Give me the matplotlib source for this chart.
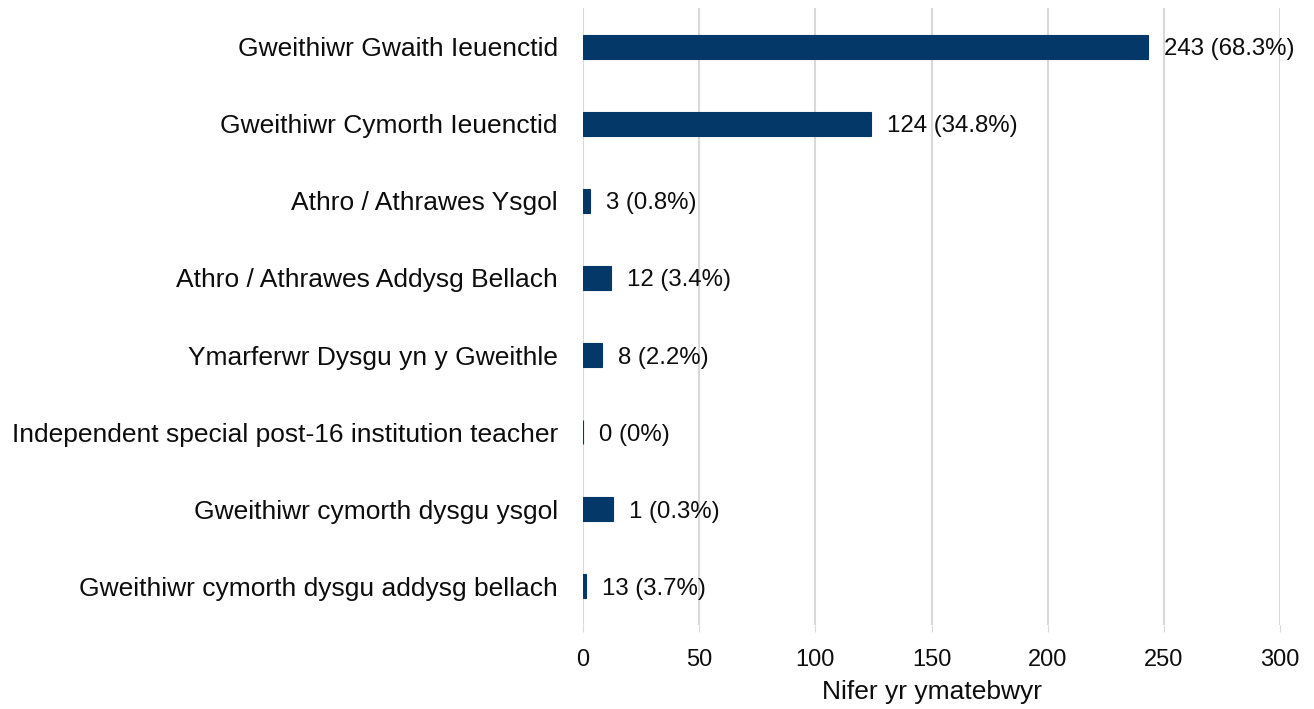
import matplotlib
matplotlib.use("Agg")
import matplotlib.pyplot as plt

categories = [
    "Gweithiwr Gwaith Ieuenctid",
    "Gweithiwr Cymorth Ieuenctid",
    "Athro / Athrawes Ysgol",
    "Athro / Athrawes Addysg Bellach",
    "Ymarferwr Dysgu yn y Gweithle",
    "Independent special post-16 institution teacher",
    "Gweithiwr cymorth dysgu ysgol",
    "Gweithiwr cymorth dysgu addysg bellach",
]
bar_values = [243, 124, 3, 12, 8, 0, 13, 1.5]
value_labels = ["243 (68.3%)", "124 (34.8%)", "3 (0.8%)", "12 (3.4%)",
                "8 (2.2%)", "0 (0%)", "1 (0.3%)", "13 (3.7%)"]
xticks = [0, 50, 100, 150, 200, 250, 300]
xlabel = "Nifer yr ymatebwyr"

plt.rcParams['font.family'] = ['Liberation Sans', 'DejaVu Sans']

fig = plt.figure(figsize=(13.14, 7.09), dpi=100)
ax = fig.add_axes([583/1314, 1 - 625/709, 697/1314, 617/709])

color = '#043868'
fs = 19
y = list(range(len(categories)))
ax.barh(y, bar_values, height=0.31, color=color, edgecolor=color, linewidth=0.8, zorder=3)
for yi, v, lab in zip(y, bar_values, value_labels):
    ax.annotate(lab, (v, yi), xytext=(16, 0), textcoords='offset pixels',
                va='center_baseline', ha='left', fontsize=17.3, color='#0d0d0d')

ax.set_ylim(len(categories) - 0.5, -0.5)
ax.set_xlim(0, 300)
ax.set_xticks(xticks)
ax.set_yticks(y)
ax.set_yticklabels(categories, fontsize=fs, color='#0d0d0d')
ax.tick_params(axis='y', length=0, pad=18)
ax.tick_params(axis='x', length=5, color='#d9d9d9', labelsize=17, labelcolor='#0d0d0d', pad=12)
ax.grid(axis='x', color='#d9d9d9', linewidth=1.5, zorder=0)
for s in ax.spines.values():
    s.set_visible(False)
ax.set_xlabel(xlabel, fontsize=fs, color='#0d0d0d', labelpad=7)

fig.savefig("out.png", dpi=100)
